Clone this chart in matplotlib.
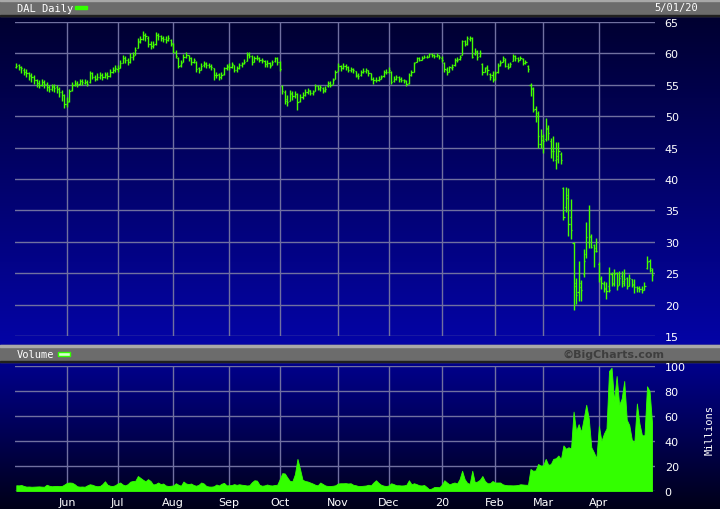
import numpy as np
import matplotlib.pyplot as plt
from matplotlib.patches import Rectangle
from matplotlib.colors import to_rgb

# DAL daily bars, 2019-05-03 .. 2020-05-01 (one value per trading day)
DAYS_PER_MONTH = [20, 20, 22, 22, 20, 23, 20, 21, 21, 19, 22, 21, 1]  # May'19 .. May'20
MONTH_LABELS = ["Jun", "Jul", "Aug", "Sep", "Oct", "Nov", "Dec", "20", "Feb", "Mar", "Apr"]

closes = [
    58.0, 57.9, 57.6, 57.0, 56.8, 56.5, 56.2, 55.8, 55.3, 55.0, 55.4, 55.2, 54.6, 54.3, 54.7, 54.5, 54.4, 53.8, 53.4, 52.0,
    52.3, 54.0, 55.0, 55.2, 55.0, 55.6, 55.4, 55.5, 55.2, 56.8, 56.2, 56.0, 56.3, 56.5, 56.2, 56.6, 56.4, 57.0, 57.3, 57.6,
    57.6, 58.5, 59.2, 59.0, 58.6, 59.4, 59.6, 60.6, 61.8, 62.3, 63.0, 62.7, 61.5, 61.2, 61.4, 63.0, 62.8, 62.4, 62.3, 62.1, 62.5, 61.6,
    60.3, 59.6, 58.0, 58.5, 59.5, 59.8, 59.3, 58.7, 58.9, 57.5, 57.3, 58.0, 58.3, 58.2, 58.0, 57.8, 56.5, 56.6, 56.3, 56.5, 57.6, 57.9,
    57.9, 58.3, 57.4, 57.6, 58.1, 58.3, 58.7, 59.8, 59.6, 58.6, 59.2, 59.3, 59.0, 58.9, 58.3, 58.4, 58.0, 58.7, 59.2, 58.6,
    57.5, 54.0, 52.5, 52.3, 53.6, 53.2, 53.5, 52.3, 53.0, 53.4, 53.8, 54.0, 53.7, 53.8, 54.8, 54.5, 54.6, 54.0, 54.3, 55.3, 55.0, 55.8, 57.0,
    58.0, 57.6, 58.0, 57.9, 57.4, 57.5, 57.3, 56.5, 56.4, 57.0, 57.2, 57.3, 56.8, 56.0, 55.7, 55.8, 56.0, 56.3, 57.0, 57.1,
    57.4, 55.5, 56.0, 56.2, 55.9, 55.8, 55.7, 55.2, 56.5, 57.0, 58.5, 59.2, 59.0, 59.3, 59.5, 59.4, 59.9, 59.7, 59.6, 59.8, 59.4,
    59.0, 57.5, 57.0, 57.8, 57.9, 59.0, 59.0, 59.4, 62.0, 61.5, 62.4, 62.5, 59.5, 60.4, 59.5, 60.0, 57.0, 57.6, 57.3, 56.3, 55.8,
    56.8, 58.0, 58.5, 59.3, 58.0, 57.9, 58.3, 59.6, 59.3, 59.0, 59.3, 58.5, 58.7, 57.5, 54.5, 51.0, 50.0, 46.8, 46.2,
    46.0, 48.2, 47.3, 45.0, 44.5, 43.6, 44.5, 43.0, 34.0, 37.0, 32.8, 31.8, 23.5, 21.5, 22.8, 22.3, 27.0, 30.7, 31.0, 29.2, 28.5, 28.5,
    24.2, 23.5, 22.5, 22.2, 22.3, 23.3, 24.8, 23.0, 24.3, 23.7, 24.0, 22.9, 24.2, 23.2, 22.8, 22.6, 22.5, 22.3, 23.0, 26.8, 25.9,
    24.7,
]

highs = [
    58.5, 58.3, 58.0, 57.6, 57.5, 57.1, 56.8, 56.5, 56.0, 55.7, 55.9, 55.8, 55.4, 55.0, 55.2, 55.1, 55.0, 54.6, 54.2, 53.6,
    53.0, 54.4, 55.4, 55.8, 55.6, 56.0, 55.9, 56.0, 55.8, 57.2, 57.0, 56.6, 56.8, 57.0, 56.8, 57.1, 57.0, 57.5, 57.8, 58.1,
    58.2, 58.9, 59.8, 59.6, 59.3, 60.0, 60.2, 61.0, 62.5, 62.8, 63.5, 63.3, 62.8, 61.9, 62.0, 63.4, 63.3, 63.0, 62.8, 62.7, 62.9, 62.3,
    61.6, 60.6, 59.4, 59.0, 59.9, 60.2, 59.8, 59.4, 59.3, 58.8, 57.9, 58.4, 58.8, 58.6, 58.5, 58.3, 57.7, 57.1, 56.9, 57.0, 57.9, 58.3,
    58.4, 58.6, 58.2, 58.0, 58.5, 58.7, 59.1, 60.3, 60.2, 59.8, 59.6, 59.7, 59.4, 59.3, 59.0, 58.9, 58.6, 59.0, 59.5, 59.4,
    58.8, 55.0, 54.2, 53.4, 54.2, 54.0, 54.0, 53.7, 53.5, 53.9, 54.3, 54.5, 54.2, 54.2, 55.2, 55.0, 55.0, 54.7, 54.8, 55.6, 55.6, 56.1, 57.3,
    58.4, 58.2, 58.5, 58.3, 58.0, 57.9, 57.7, 57.2, 56.9, 57.3, 57.6, 57.7, 57.3, 56.9, 56.3, 56.2, 56.4, 56.6, 57.4, 57.5,
    57.8, 57.2, 56.4, 56.6, 56.4, 56.2, 56.0, 55.7, 56.8, 57.4, 58.7, 59.5, 59.4, 59.6, 59.8, 59.7, 60.1, 60.0, 59.9, 60.0, 59.8,
    59.6, 58.7, 57.8, 58.0, 58.3, 59.3, 59.4, 59.7, 62.2, 62.1, 62.7, 62.8, 62.6, 60.8, 60.6, 60.5, 58.5, 57.9, 58.2, 56.8, 57.2,
    57.2, 58.5, 58.9, 59.6, 59.2, 58.4, 58.7, 59.9, 59.7, 59.4, 59.6, 59.2, 59.0, 58.2, 55.3, 54.6, 51.7, 50.9, 47.9,
    47.1, 49.7, 48.6, 46.6, 46.8, 45.9, 45.9, 44.3, 38.7, 38.8, 38.5, 36.8, 29.9, 24.3, 27.0, 23.9, 28.8, 33.2, 35.8, 31.3, 29.7, 30.6,
    26.8, 24.6, 23.8, 23.6, 26.0, 25.2, 25.7, 25.2, 25.4, 25.4, 25.7, 24.4, 24.9, 24.1, 24.1, 23.0, 23.0, 23.0, 23.6, 27.7, 27.3,
    25.8,
]

lows = [
    57.6, 57.4, 56.9, 56.5, 56.2, 55.8, 55.5, 55.1, 54.7, 54.5, 54.8, 54.5, 54.0, 53.8, 54.0, 53.8, 53.7, 53.0, 52.5, 51.3,
    51.5, 52.3, 54.0, 54.8, 54.6, 55.0, 55.0, 55.1, 54.8, 55.3, 56.0, 55.6, 55.8, 56.0, 55.8, 56.1, 56.0, 56.3, 56.8, 57.1,
    57.1, 57.6, 58.4, 58.5, 58.2, 58.5, 59.0, 59.8, 60.8, 61.6, 62.2, 62.0, 61.0, 60.7, 60.8, 61.3, 62.2, 61.9, 61.8, 61.6, 61.9, 61.2,
    60.0, 59.2, 57.6, 57.9, 58.6, 59.2, 58.8, 58.2, 58.4, 57.1, 56.8, 57.3, 57.8, 57.7, 57.6, 57.3, 55.8, 56.1, 55.8, 55.9, 56.6, 57.3,
    57.3, 57.7, 57.1, 57.0, 57.5, 57.9, 58.3, 59.0, 59.3, 58.2, 58.6, 58.9, 58.6, 58.4, 57.9, 57.9, 57.6, 58.1, 58.7, 58.1,
    57.2, 53.5, 52.0, 51.6, 52.5, 52.6, 52.9, 51.0, 52.2, 52.8, 53.2, 53.5, 53.3, 53.4, 54.0, 54.1, 54.0, 53.7, 53.8, 54.6, 54.6, 55.1, 56.0,
    57.2, 57.2, 57.5, 57.4, 57.0, 57.1, 56.9, 56.2, 56.0, 56.4, 56.8, 56.9, 56.4, 55.7, 55.2, 55.4, 55.6, 55.9, 56.3, 56.7,
    56.9, 55.2, 55.4, 55.7, 55.5, 55.4, 55.3, 54.8, 55.2, 56.4, 57.0, 58.6, 58.8, 58.9, 59.2, 59.2, 59.4, 59.4, 59.3, 59.4, 59.1,
    58.6, 57.0, 56.5, 57.0, 57.4, 58.0, 58.6, 59.0, 59.7, 61.2, 61.4, 62.0, 59.3, 59.8, 59.0, 59.4, 56.6, 57.0, 56.6, 55.7, 55.4,
    55.8, 56.9, 58.0, 58.6, 57.8, 57.5, 57.8, 58.9, 58.8, 58.7, 58.9, 58.2, 58.3, 57.0, 53.2, 50.6, 49.0, 44.9, 45.0,
    44.2, 46.0, 46.2, 43.4, 42.8, 41.6, 42.6, 42.4, 33.4, 34.8, 31.0, 30.4, 19.2, 20.1, 20.6, 20.6, 24.4, 27.4, 29.0, 29.0, 26.0, 28.3,
    23.6, 22.5, 22.0, 20.9, 22.0, 23.0, 23.0, 22.3, 23.6, 22.8, 23.0, 22.5, 23.6, 22.8, 21.8, 22.0, 22.0, 21.8, 22.3, 25.6, 25.2,
    23.8,
]

opens = [
    57.8, 58.1, 57.8, 57.4, 57.1, 56.9, 56.4, 56.2, 55.8, 55.3, 55.0, 55.5, 55.2, 54.7, 54.3, 54.8, 54.6, 54.3, 53.9, 53.4,
    52.0, 52.4, 54.1, 55.0, 55.3, 55.1, 55.6, 55.3, 55.5, 55.4, 56.8, 56.2, 56.0, 56.2, 56.5, 56.3, 56.7, 56.4, 57.0, 57.3,
    57.5, 57.7, 58.5, 59.2, 59.0, 58.6, 59.4, 59.8, 60.9, 61.9, 62.3, 62.9, 62.5, 61.5, 61.1, 61.5, 62.9, 62.7, 62.4, 62.3, 62.2, 62.2,
    61.5, 60.3, 59.2, 58.1, 58.7, 59.5, 59.7, 59.2, 58.6, 58.7, 57.6, 57.4, 58.1, 58.4, 58.1, 58.0, 57.6, 56.5, 56.7, 56.3, 56.7, 57.6,
    58.0, 57.9, 58.2, 57.4, 57.7, 58.1, 58.4, 58.8, 59.9, 59.6, 58.6, 59.2, 59.3, 59.0, 58.8, 58.3, 58.4, 58.1, 58.8, 59.2,
    58.6, 54.8, 53.9, 52.7, 52.4, 53.7, 53.2, 53.5, 52.4, 53.0, 53.4, 53.8, 54.1, 53.7, 54.0, 54.8, 54.4, 54.5, 54.1, 54.8, 55.3, 55.2, 56.0,
    57.2, 58.0, 57.6, 58.0, 57.9, 57.4, 57.5, 57.2, 56.4, 56.5, 57.0, 57.2, 57.3, 56.8, 56.0, 55.7, 55.8, 56.0, 56.4, 57.0,
    57.1, 57.0, 55.6, 56.0, 56.2, 55.9, 55.8, 55.6, 55.3, 56.5, 57.1, 58.6, 59.2, 59.0, 59.3, 59.5, 59.5, 59.9, 59.7, 59.6, 59.7,
    59.3, 58.5, 57.4, 57.1, 57.6, 58.1, 59.0, 59.1, 59.8, 62.0, 61.5, 62.3, 62.5, 59.9, 60.3, 59.6, 58.3, 57.1, 57.8, 56.7, 56.6,
    56.0, 57.0, 58.1, 58.7, 59.0, 58.0, 57.9, 58.8, 59.6, 59.2, 59.0, 59.1, 58.5, 58.0, 55.0, 54.3, 51.2, 50.5, 45.5,
    46.8, 46.3, 48.0, 46.0, 44.5, 43.0, 43.2, 44.0, 38.5, 35.5, 37.5, 34.0, 29.8, 23.0, 22.0, 23.5, 24.8, 28.0, 30.0, 30.8, 29.5, 29.0,
    26.5, 24.0, 23.3, 22.6, 23.0, 24.8, 23.4, 25.0, 23.2, 24.5, 23.4, 24.2, 23.0, 24.0, 23.3, 22.8, 22.6, 22.5, 22.4, 25.8, 27.0,
    25.5,
]

# volume, millions of shares
volumes = [
    4.6, 4.5, 4.8, 4.0, 3.5, 3.6, 3.4, 3.5, 3.6, 3.7, 3.5, 3.4, 5.0, 4.2, 3.8, 4.0, 4.1, 3.9, 4.0, 5.2,
    6.5, 6.8, 6.6, 5.5, 3.8, 3.5, 3.6, 3.4, 4.5, 5.4, 5.0, 4.2, 3.8, 4.0, 5.5, 7.8, 5.0, 4.2, 4.0, 4.6,
    6.0, 6.8, 5.2, 4.5, 5.5, 7.5, 8.0, 8.2, 12.0, 10.5, 9.0, 7.8, 9.5, 8.0, 5.2, 5.6, 6.8, 5.5, 6.0, 4.4, 4.0, 4.2,
    4.5, 6.2, 5.0, 4.2, 7.6, 6.0, 5.5, 6.0, 4.8, 4.2, 5.0, 6.8, 6.0, 4.0, 3.6, 3.5, 3.8, 5.2, 4.4, 5.8, 6.5, 4.5,
    4.6, 4.8, 5.5, 4.9, 5.4, 5.0, 4.8, 4.4, 4.6, 7.0, 8.6, 8.3, 5.0, 4.2, 4.5, 5.2, 4.6, 4.4, 4.8, 5.0,
    9.5, 14.3, 14.0, 10.8, 8.0, 7.8, 13.5, 25.7, 17.6, 9.0, 8.0, 7.6, 6.8, 6.0, 5.0, 4.5, 6.8, 5.6, 4.4, 4.0, 4.0, 4.2, 4.6,
    6.0, 6.2, 6.2, 6.3, 6.0, 6.2, 5.0, 4.6, 4.0, 4.0, 4.2, 4.4, 5.0, 4.5, 6.8, 8.6, 6.5, 5.0, 4.3, 4.0,
    4.4, 6.2, 5.5, 4.6, 4.6, 4.4, 4.5, 5.0, 8.6, 5.4, 6.2, 5.5, 4.6, 4.4, 4.8, 3.2, 1.4, 2.0, 3.2, 3.2, 3.0,
    5.0, 8.6, 6.8, 5.3, 6.2, 6.8, 6.0, 9.5, 16.2, 9.5, 6.5, 5.8, 16.2, 7.0, 7.6, 9.0, 12.0, 8.0, 6.2, 6.2, 8.0,
    6.8, 6.8, 6.8, 5.4, 4.8, 4.6, 4.6, 4.5, 4.6, 4.8, 5.4, 5.2, 5.0, 5.0, 17.6, 16.2, 16.5, 21.6, 20.3,
    20.5, 25.7, 21.0, 21.5, 25.7, 26.2, 28.4, 25.5, 36.5, 33.8, 35.0, 34.0, 63.5, 48.0, 53.5, 47.3, 58.0, 69.0, 58.0, 35.0, 31.0, 26.2,
    52.0, 40.0, 46.0, 50.0, 96.0, 98.6, 72.0, 92.0, 69.0, 74.0, 88.0, 57.0, 52.7, 41.0, 39.2, 70.0, 54.0, 44.6, 44.6, 83.8, 80.0,
    54.0,
]

PRICE_TICKS = [15, 20, 25, 30, 35, 40, 45, 50, 55, 60, 65]
VOLUME_TICKS = [0, 20, 40, 60, 80, 100]

GREEN_BAR = "#44ff00"
GREEN_VOL = "#33ff00"
GRID = "#7070a0"
W, H = 720, 510


def gradient(top, bottom, n):
    t = np.linspace(0, 1, n)[:, None]
    return (1 - t) * np.array(to_rgb(top)) + t * np.array(to_rgb(bottom))


def header_bar(ax, y0, y1):
    ax.add_patch(Rectangle((0, y0), W, y1 - y0, color="#6c6c6c", zorder=2))
    ax.add_patch(Rectangle((0, y0), W, 1.5, color="#a8a8a8", zorder=3))
    ax.add_patch(Rectangle((0, y1 - 1.5), W, 1.5, color="#202020", zorder=3))


def main():
    n = len(closes)
    x = np.arange(n)
    month_starts = np.cumsum(DAYS_PER_MONTH)[:-2]

    fig = plt.figure(figsize=(W / 100, H / 100), dpi=100)

    # background: gradients plus the two grey title strips
    bg = fig.add_axes([0, 0, 1, 1])
    img = np.vstack([
        gradient("#6c6c6c", "#6c6c6c", 17),
        gradient("#000030", "#0404a6", 329),
        gradient("#6c6c6c", "#6c6c6c", 17),
        gradient("#00008c", "#000018", 147),
    ])
    bg.imshow(img[:, None, :].repeat(2, axis=1), extent=(0, W, H, 0), aspect="auto", zorder=0)
    header_bar(bg, 0, 17)
    header_bar(bg, 346, 363)
    bg.set_xlim(0, W)
    bg.set_ylim(H, 0)
    bg.axis("off")

    bg.text(17, 8.5, "DAL Daily", color="white", fontsize=7.5, family="DejaVu Sans Mono",
            va="center", zorder=4)
    bg.add_patch(Rectangle((75, 6.5), 12, 3.5, color=GREEN_VOL, zorder=4))
    bg.text(698, 8.5, "5/01/20", color="white", fontsize=7.5, family="DejaVu Sans Mono",
            va="center", ha="right", zorder=4)
    bg.text(17, 355, "Volume", color="white", fontsize=7.5, family="DejaVu Sans Mono",
            va="center", zorder=4)
    bg.add_patch(Rectangle((57.5, 352.5), 12, 4, facecolor="#d8ffd0", edgecolor=GREEN_VOL,
                           linewidth=1.0, zorder=4))
    bg.text(613, 354.5, "\u00a9BigCharts.com", color="#3e3e3e", fontsize=8, fontweight="bold",
            va="center", ha="center", zorder=4)
    bg.text(710, 430, "Millions", color="white", fontsize=7.5, family="DejaVu Sans Mono",
            rotation=90, va="center", ha="center", zorder=4)

    xlim = (-0.51, 252.15)

    # price panel: OHLC bars
    ax = fig.add_axes([15 / W, 1 - 337 / H, 640 / W, 314 / H])
    ax.patch.set_visible(False)
    lo = np.minimum(lows, np.minimum(opens, closes))
    hi = np.maximum(highs, np.maximum(opens, closes))
    ax.vlines(x, lo, hi, color=GREEN_BAR, linewidth=1.0, zorder=3)
    ax.hlines(opens, x - 0.45, x, color=GREEN_BAR, linewidth=0.9, zorder=3)
    ax.hlines(closes, x, x + 0.45, color=GREEN_BAR, linewidth=0.9, zorder=3)
    ax.set_xlim(*xlim)
    ax.set_ylim(15, 65)
    ax.set_yticks(PRICE_TICKS)
    ax.set_xticks(month_starts)
    ax.set_xticklabels([])

    # volume panel
    axv = fig.add_axes([15 / W, 1 - 492 / H, 640 / W, 125 / H])
    axv.patch.set_visible(False)
    axv.fill_between(x, volumes, color=GREEN_VOL, linewidth=0.6, edgecolor=GREEN_VOL, zorder=3)
    axv.set_xlim(*xlim)
    axv.set_ylim(0, 100)
    axv.set_yticks(VOLUME_TICKS)
    axv.set_xticks(month_starts)
    axv.set_xticklabels(MONTH_LABELS)

    for a in (ax, axv):
        for s in a.spines.values():
            s.set_visible(False)
        a.grid(True, color=GRID, linewidth=1.0, zorder=1)
        a.yaxis.tick_right()
        a.tick_params(length=0, colors="white", labelsize=8, pad=7)
        a.tick_params(axis="x", pad=4)

    fig.savefig("out.png", dpi=100)


if __name__ == "__main__":
    main()
